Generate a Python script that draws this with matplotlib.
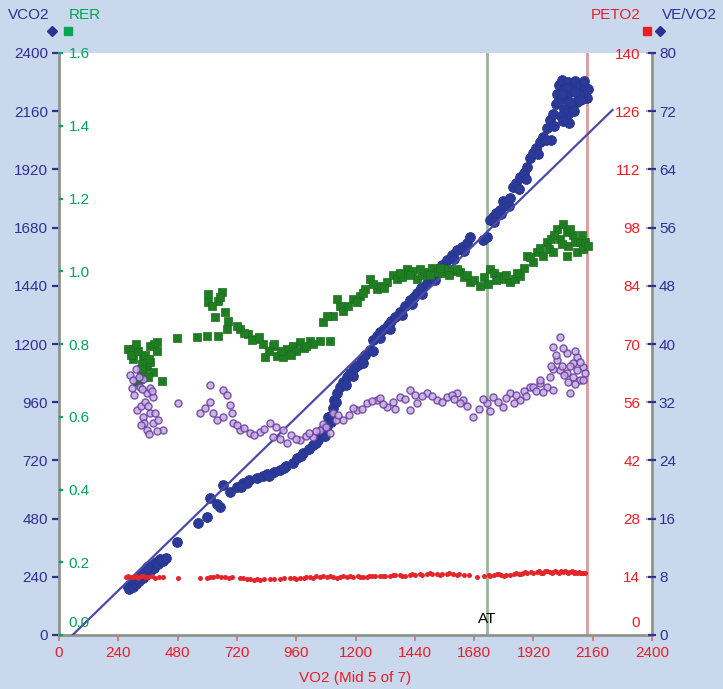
import matplotlib
matplotlib.use("Agg")
import matplotlib.pyplot as plt
from matplotlib.lines import Line2D
from matplotlib.transforms import ScaledTranslation

# ---- data -------------------------------------------------------------
vo2_ticks = list(range(0, 2401, 240))
vco2_ticks = list(range(0, 2401, 240))
rer_ticks = [0.0, 0.2, 0.4, 0.6, 0.8, 1.0, 1.2, 1.4, 1.6]
peto2_ticks = list(range(0, 141, 14))
vevo2_ticks = list(range(0, 81, 8))

# VCO2 against VO2
vco2_x = [280, 285, 295, 300, 305, 312, 318, 325, 332, 340, 346, 352, 360, 368,
          375, 383, 392, 400, 410, 420, 432,
          478, 563, 599, 611, 652, 664, 692, 720, 745, 770, 801, 825, 842, 870,
          894, 920, 947, 965, 987, 1010, 1028, 1050, 1060, 1075, 1085, 1090,
          1100, 1109, 1115, 1125, 1137, 1150, 1165, 1178, 1195, 1210, 1225, 1240,
          1259, 1271, 1285, 1300, 1315, 1330, 1345, 1360, 1380, 1400, 1420, 1435,
          1449, 1465, 1489, 1510, 1530, 1550, 1570, 1590, 1611, 1630, 1651,
          1716, 1732, 1744, 1756, 1770, 1785, 1797, 1810, 1825, 1837, 1850, 1865,
          1880, 1894, 1905, 1918, 1930, 1945, 1959, 1975, 1987, 1990,
          2000, 2010, 2015, 2025, 2035, 2045, 2050, 2060, 2070, 2080, 2090, 2100,
          2110, 2120, 2130, 2140, 2135, 2115, 2095, 2075, 2060, 2045, 2030, 2065,
          2085, 2105, 2125, 2055, 2020, 2040,
          1160, 1190, 1230, 1270, 1300, 1340, 1390, 1430, 1470, 1520, 1560, 1600,
          1640, 1665, 1760, 1790, 1820, 1860, 1890, 1940, 1970, 2005, 2070, 2110,
          2035, 2090, 1100, 1120, 1070, 850, 910, 980, 1040, 760, 735, 640, 340,
          355, 310]
vco2_y = [200, 188, 212, 198, 225, 210, 238, 222, 250, 236, 262, 248, 272, 262,
          290, 278, 300, 292, 312, 305, 318,
          384, 462, 487, 565, 528, 619, 590, 610, 627, 638, 647, 655, 662, 672,
          682, 695, 709, 730, 750, 766, 783, 805, 835, 820, 860, 899,
          880, 935, 969, 1000, 1023, 1045, 1065, 1082, 1100, 1115, 1135, 1155,
          1175, 1215, 1235, 1250, 1262, 1280, 1295, 1310, 1330, 1355, 1380, 1395,
          1412, 1430, 1452, 1478, 1505, 1525, 1546, 1565, 1588, 1600, 1618,
          1629, 1640, 1711, 1724, 1740, 1753, 1790, 1775, 1800, 1847, 1865, 1890,
          1905, 1930, 1965, 1988, 2010, 2035, 2054, 2090, 2124, 2040,
          2150, 2190, 2230, 2270, 2290, 2250, 2210, 2280, 2240, 2265, 2285, 2250,
          2270, 2240, 2260, 2250, 2215, 2210, 2200, 2180, 2150, 2170, 2140, 2110,
          2160, 2225, 2285, 2255, 2200, 2120,
          1030, 1070, 1120, 1170, 1225, 1262, 1318, 1365, 1405, 1462, 1515, 1552,
          1585, 1640, 1705, 1735, 1770, 1840, 1880, 1985, 2040, 2100, 2200, 2205,
          2230, 2240, 905, 960, 850, 655, 690, 740, 790, 625, 612, 540, 258,
          282, 232]

# Reference line for VCO2 = VO2
ref_x = [55, 2240]
ref_y = [0, 2165]

# RER against VO2
rer_x = [279, 300, 340, 368, 397, 356, 380, 328, 316, 417, 300, 290, 320, 350,
         385, 370, 345, 335, 395, 360,
         478, 558, 599, 644,
         603, 660, 603, 644, 631, 672, 684, 680, 650, 620,
         733, 765, 801, 826, 866, 834, 882, 923, 947, 975, 1016, 1056, 1097,
         907, 850, 900, 960, 990, 1030, 780, 750,
         1068, 1109, 1137, 1125, 1085, 1150, 1190, 1218, 1240, 1259, 1287, 1300,
         1327, 1350, 1368, 1390, 1408, 1430, 1449, 1470, 1489, 1510, 1530, 1550,
         1570, 1590, 1623, 1640, 1663, 1680, 1704, 1720, 1744, 1760, 1785, 1800,
         1825, 1845, 1866, 1880, 1894, 1918, 1934, 1959, 1975, 1985, 1990, 1999,
         2015, 2027, 2040, 2056, 2056, 2060, 2080, 2090, 2096, 2108, 2121, 2130,
         1170, 1205, 1230, 1270, 1315, 1380, 1420, 1460, 1500, 1540, 1580, 1610,
         1650, 1735, 1770, 1810, 1855, 1905, 1945, 2005, 2035, 2070, 2115, 2140,
         870, 940, 1000, 810, 720, 310, 330, 365]
rer_y = [0.786, 0.786, 0.767, 0.794, 0.806, 0.739, 0.723, 0.703, 0.695, 0.698,
         0.759, 0.770, 0.780, 0.770, 0.800, 0.750, 0.720, 0.745, 0.780, 0.710,
         0.817, 0.819, 0.822, 0.822,
         0.938, 0.943, 0.916, 0.919, 0.874, 0.888, 0.863, 0.841, 0.930, 0.905,
         0.841, 0.828, 0.814, 0.800, 0.794, 0.764, 0.767, 0.786, 0.794, 0.806,
         0.808, 0.808, 0.808,
         0.764, 0.780, 0.780, 0.780, 0.790, 0.800, 0.810, 0.830,
         0.861, 0.877, 0.905, 0.924, 0.877, 0.890, 0.924, 0.932, 0.950, 0.979,
         0.952, 0.960, 0.971, 0.990, 0.979, 0.985, 1.007, 1.000, 0.979, 0.990,
         0.999, 1.010, 0.999, 0.995, 1.007, 1.000, 0.999, 0.985, 0.971, 0.975,
         0.960, 0.985, 1.007, 0.995, 0.988, 0.980, 0.971, 0.980, 0.988, 1.010,
         1.043, 1.026, 1.054, 1.043, 1.081, 1.060, 1.090, 1.054, 1.117, 1.090,
         1.130, 1.109, 1.043, 1.070, 1.100, 1.080, 1.054, 1.081, 1.062, 1.080,
         0.905, 0.915, 0.940, 0.965, 0.955, 0.995, 0.990, 1.005, 0.990, 1.010,
         0.990, 1.005, 0.990, 0.965, 0.975, 0.990, 0.995, 1.040, 1.065, 1.100,
         1.075, 1.115, 1.100, 1.070,
         0.800, 0.770, 0.795, 0.820, 0.850, 0.800, 0.730, 0.760]

# VE/VO2 against VO2
vevo2_x = [287, 300, 310, 328, 340, 356, 370, 380, 316, 340, 368, 356, 421, 380,
           330, 482, 611, 664, 680, 611, 571, 623, 664, 692, 704, 733, 773, 813,
           854, 866, 907, 923, 975, 1028, 1056, 1109, 1097, 1150, 1206, 1246,
           1287, 1327, 1380, 1420, 1449, 1489, 1530, 1570, 1611, 1635, 1675,
           1732, 1756, 1797, 1825, 1866, 1907, 1947, 1623, 1420,
           1999, 2027, 2056, 2096, 2121, 2056, 2080, 2027, 1987, 1947, 1918, 1975,
           2068, 2108, 2015, 2080, 2096, 1999,
           295, 305, 322, 335, 348, 362, 375, 390, 400, 345, 330, 365, 395,
           590, 640, 700, 720, 750, 790, 830, 880, 895, 940, 960, 1000, 1010,
           1040, 1070, 1080, 1120, 1130, 1175, 1190, 1225, 1265, 1300, 1310, 1350,
           1360, 1400, 1440, 1470, 1510, 1550, 1590, 1600, 1650, 1700, 1715, 1745,
           1775, 1810, 1840, 1850, 1880, 1890, 1930, 1960,
           2010, 2040, 2035, 2070, 2090, 2110, 2130, 2000, 2045, 2060, 2090, 2120,
           1990]
vevo2_y = [35.7, 35.0, 36.5, 34.1, 35.2, 33.3, 34.0, 32.7, 30.9, 30.0, 30.5, 28.2,
           28.2, 29.1, 31.5, 31.9, 34.4, 33.7, 33.0, 32.0, 30.5, 30.5, 30.0, 31.6,
           29.1, 28.2, 27.8, 27.9, 29.1, 27.2, 28.2, 26.4, 26.8, 27.2, 28.2, 30.5,
           27.8, 29.5, 30.9, 31.9, 32.3, 31.3, 32.7, 33.7, 31.9, 33.3, 32.3, 32.7,
           33.3, 32.3, 30.0, 31.9, 32.7, 31.3, 33.3, 32.3, 34.1, 34.6, 31.9, 30.9,
           39.6, 41.0, 38.8, 38.2, 36.8, 36.0, 35.5, 36.4, 35.5, 35.1, 34.1, 34.1,
           33.3, 35.1, 37.8, 37.4, 36.4, 33.7,
           34.0, 33.0, 35.5, 33.8, 32.0, 31.5, 33.5, 30.5, 29.6, 29.2, 28.8, 27.6,
           28.0,
           31.2, 29.5, 30.5, 28.9, 28.5, 27.5, 28.3, 28.6, 27.0, 27.5, 26.9, 27.4,
           27.8, 28.0, 29.0, 28.6, 29.6, 30.2, 30.3, 31.2, 31.0, 32.1, 32.6, 31.8,
           32.0, 31.1, 32.4, 33.0, 32.8, 32.9, 32.0, 33.0, 32.5, 31.5, 31.0, 32.4,
           30.8, 32.0, 32.6, 31.9, 33.0, 33.5, 32.8, 33.6, 33.4,
           38.5, 39.5, 37.0, 37.0, 39.0, 37.5, 36.0, 36.5, 35.8, 34.8, 34.5, 35.0,
           37.0]

# PETO2 against VO2
peto2_x = [270, 280, 290, 300, 310, 320, 330, 340, 350, 360, 375, 390, 405, 420,
           482, 571, 600, 611, 625, 639, 655, 672, 690, 733, 745, 760, 773, 790,
           813, 830, 854, 870, 894, 910, 935, 950, 975, 990, 1000, 1016, 1030,
           1056, 1070, 1085, 1097, 1110, 1137, 1150, 1165, 1190, 1210, 1230, 1246,
           1265, 1280, 1299, 1320, 1340, 1360, 1380, 1400, 1420, 1440, 1460, 1489,
           1510, 1530, 1550, 1570, 1595, 1620, 1640, 1660, 1692, 1720, 1740, 1760,
           1773, 1790, 1810, 1825, 1840, 1860, 1878, 1895, 1910, 1934, 1950, 1965,
           1987, 2000, 2015, 2030, 2040, 2055, 2070, 2085, 2096, 2110, 2121, 2130,
           1178, 1220, 1255, 1310, 1350, 1390, 1430, 1470, 1500, 1540, 1580, 1610,
           1745, 1780, 1800, 1850, 1870, 1885, 1920, 1942, 1958, 1975, 1995, 2008,
           2022, 2048, 2062, 2078, 2090, 2103, 2115, 1040, 1125, 960, 700, 800]
peto2_y = [14.0, 14.2, 13.9, 14.0, 14.3, 13.8, 14.1, 14.2, 13.9, 14.0, 14.2, 13.8,
           14.0, 13.9, 13.7, 13.7, 13.8, 14.0, 13.9, 14.2, 14.0, 14.0, 13.8, 13.7,
           13.6, 13.5, 13.5, 13.3, 13.2, 13.4, 13.5, 13.4, 13.5, 13.6, 13.7, 13.6,
           13.7, 13.8, 13.9, 14.0, 13.8, 14.0, 14.1, 14.0, 14.2, 14.0, 14.0, 14.1,
           13.9, 14.0, 14.1, 14.0, 14.0, 14.2, 14.1, 14.2, 14.3, 14.2, 14.4, 14.4,
           14.3, 14.4, 14.5, 14.6, 14.7, 14.6, 14.7, 14.6, 14.7, 14.7, 14.6, 14.5,
           14.4, 14.0, 14.3, 14.4, 14.5, 14.7, 14.5, 14.4, 14.4, 14.6, 14.7, 14.9,
           15.0, 15.1, 15.2, 15.0, 15.3, 15.2, 15.1, 15.2, 15.3, 15.2, 15.1, 15.2,
           15.0, 14.9, 15.0, 14.9, 14.8,
           14.2, 13.9, 14.3, 14.1, 14.5, 14.2, 14.6, 14.4, 14.8, 14.5, 14.8, 14.4,
           14.2, 14.6, 14.3, 14.8, 14.6, 15.2, 14.9, 15.3, 15.0, 15.4, 15.0, 15.4,
           15.0, 15.4, 15.0, 15.3, 15.1, 15.2, 15.0, 14.1, 13.8, 13.4, 13.9, 13.4]

at_vo2 = 1732
end_vo2 = 2137

# ---- style ------------------------------------------------------------
plt.rcParams["font.family"] = ["Liberation Sans", "DejaVu Sans"]
plt.rcParams["font.size"] = 11

NAVY = "#2e3192"
GREEN = "#00a651"
RED = "#ed1c24"
BG = "#cad8ee"
W, H = 723, 689

fig = plt.figure(figsize=(W / 100, H / 100), dpi=100, facecolor=BG)
ax = fig.add_axes([59 / W, 54 / H, 593 / W, 582 / H])
ax.set_facecolor("white")

# main axes: VCO2 vs VO2
ax.set_xlim(0, 2400)
ax.set_ylim(0, 2400)
ax.set_xticks(vo2_ticks)
ax.set_yticks(vco2_ticks)
ax.tick_params(axis="x", color="#e07070", labelcolor=RED, length=4, width=1.3,
               pad=4, labelsize=11)
ax.tick_params(axis="y", color=NAVY, labelcolor=NAVY, length=5, width=1.6,
               pad=3, labelsize=11)
for side in ("left", "right", "bottom"):
    ax.spines[side].set_color("#8e948e")
    ax.spines[side].set_linewidth(2)
ax.spines["top"].set_visible(False)
ax.set_xlabel("VO2 (Mid 5 of 7)", color=RED, fontsize=11, labelpad=8)

ax.axvline(at_vo2, color="#98b898", lw=2, zorder=1)
ax.axvline(end_vo2, color="#d99a98", lw=2, zorder=1)
ax.scatter(vco2_x, vco2_y, s=50, color="#2b3a98", edgecolors="#26358f",
           linewidths=0.6, zorder=3)
ax.plot(ref_x, ref_y, color="#4b4aa6", lw=1.6, zorder=4)
ax.text(at_vo2, 66, "AT", ha="center", va="center", color="black", fontsize=11)

# RER axis (inside, left)
ax_rer = ax.twinx()
ax_rer.set_ylim(0, 1.6)
ax_rer.set_yticks(rer_ticks)
ax_rer.set_yticklabels([f"{t:.1f}" for t in rer_ticks])
ax_rer.yaxis.set_ticks_position("left")
ax_rer.tick_params(axis="y", direction="in", color=GREEN, labelcolor=GREEN,
                   length=3, width=1.6, pad=-7, labelsize=11)

# PETO2 axis (inside, right)
ax_pet = ax.twinx()
ax_pet.set_ylim(0, 140)
ax_pet.set_yticks(peto2_ticks)
ax_pet.tick_params(axis="y", direction="in", color="#e08a8a", labelcolor=RED,
                   length=4, width=1.3, pad=-8.5, labelsize=11)

# VE/VO2 axis (outside, right)
ax_ve = ax.twinx()
ax_ve.set_ylim(0, 80)
ax_ve.set_yticks(vevo2_ticks)
ax_ve.tick_params(axis="y", direction="inout", color=NAVY, labelcolor=NAVY,
                  length=6, width=1.6, pad=2, labelsize=11)

for a in (ax_rer, ax_pet, ax_ve):
    for s in a.spines.values():
        s.set_visible(False)

ax_ve.scatter(vevo2_x, vevo2_y, s=26, facecolors="#c4aadf", edgecolors="#663a9e",
              linewidths=1.0, alpha=0.85, zorder=3)
ax_rer.scatter(rer_x, rer_y, s=28, marker="s", color="#1f7d22",
               edgecolors="#1a6e1d", linewidths=0.5, zorder=3)
ax_pet.scatter(peto2_x, peto2_y, s=13, color="#e3262b", linewidths=0, zorder=3)

for lab in ax_rer.get_yticklabels():
    lab.set_horizontalalignment("left")
for lab in ax_pet.get_yticklabels():
    lab.set_horizontalalignment("right")

# lift the zero labels clear of the VO2 axis
shift = ScaledTranslation(0, 10 / 72, fig.dpi_scale_trans)
for a in (ax_rer, ax_pet):
    lab = a.get_yticklabels()[0]
    lab.set_transform(lab.get_transform() + shift)

# axis titles along the top
fig.text(8 / W, 1 - 15 / H, "VCO2", color=NAVY, ha="left", va="center", fontsize=11)
fig.text(69 / W, 1 - 15 / H, "RER", color=GREEN, ha="left", va="center", fontsize=11)
fig.text(641 / W, 1 - 15 / H, "PETO2", color=RED, ha="right", va="center", fontsize=11)
fig.text(662 / W, 1 - 15 / H, "VE/VO2", color=NAVY, ha="left", va="center", fontsize=11)
for px, mk, col, ms in ((52, "D", NAVY, 5), (68, "s", GREEN, 5.5),
                        (647, "s", RED, 5.5), (660, "D", NAVY, 5)):
    fig.add_artist(Line2D([px / W], [1 - 31 / H], marker=mk, color=col, ms=ms,
                          lw=0, transform=fig.transFigure))

fig.savefig("out.png", dpi=100, facecolor=BG)
